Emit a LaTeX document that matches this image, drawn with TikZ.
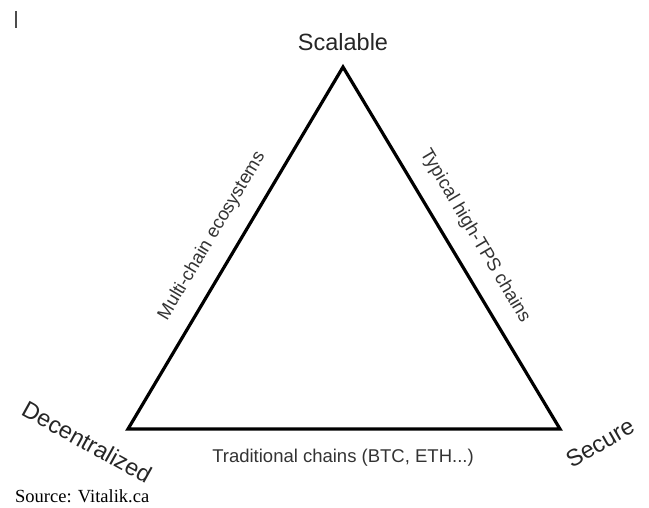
\documentclass[tikz,border=0pt]{standalone}
\usepackage{fontspec}
\setmainfont{Liberation Sans}
\newfontfamily\srcfont{Liberation Serif}
\begin{document}
\begin{tikzpicture}[x=1pt,y=-1pt,
  corner/.style={font=\fontsize{23.5}{26}\selectfont, text=black!85, inner sep=0pt},
  edgelabel/.style={font=\fontsize{18.5}{21}\selectfont, text=black!80, inner sep=0pt},
  side/.style={line width=3.2pt, line join=miter, black}]
\useasboundingbox (0,0) rectangle (649,508);
\coordinate (A) at (343,67);
\coordinate (B) at (128,429);
\coordinate (C) at (560,429);
\draw[side] (A) -- (B) -- (C) -- cycle;
\node[corner] (top) at (343,42) {Scalable};
\node[corner, rotate=-29] (left) at (87,442) {Decentralized};
\node[corner, rotate=30] (right) at (600,443) {Secure};
\node[edgelabel, rotate=59.3] (ml) at (212,236) {Multi-chain ecosystems};
\node[edgelabel, rotate=-59.3] (mr) at (475,236) {Typical high-TPS chains};
\node[edgelabel] (mb) at (343,458) {Traditional chains (BTC, ETH...)};
\node[font=\srcfont\fontsize{18.5}{21}\selectfont, anchor=base west, inner sep=0pt] (src) at (15,502) {Source: Vitalik.ca};
\coordinate (c1) at (15.5,11);
\coordinate (c2) at (15.5,28);
\draw[line width=2pt, black!70] (c1) -- (c2);
\end{tikzpicture}
\end{document}
